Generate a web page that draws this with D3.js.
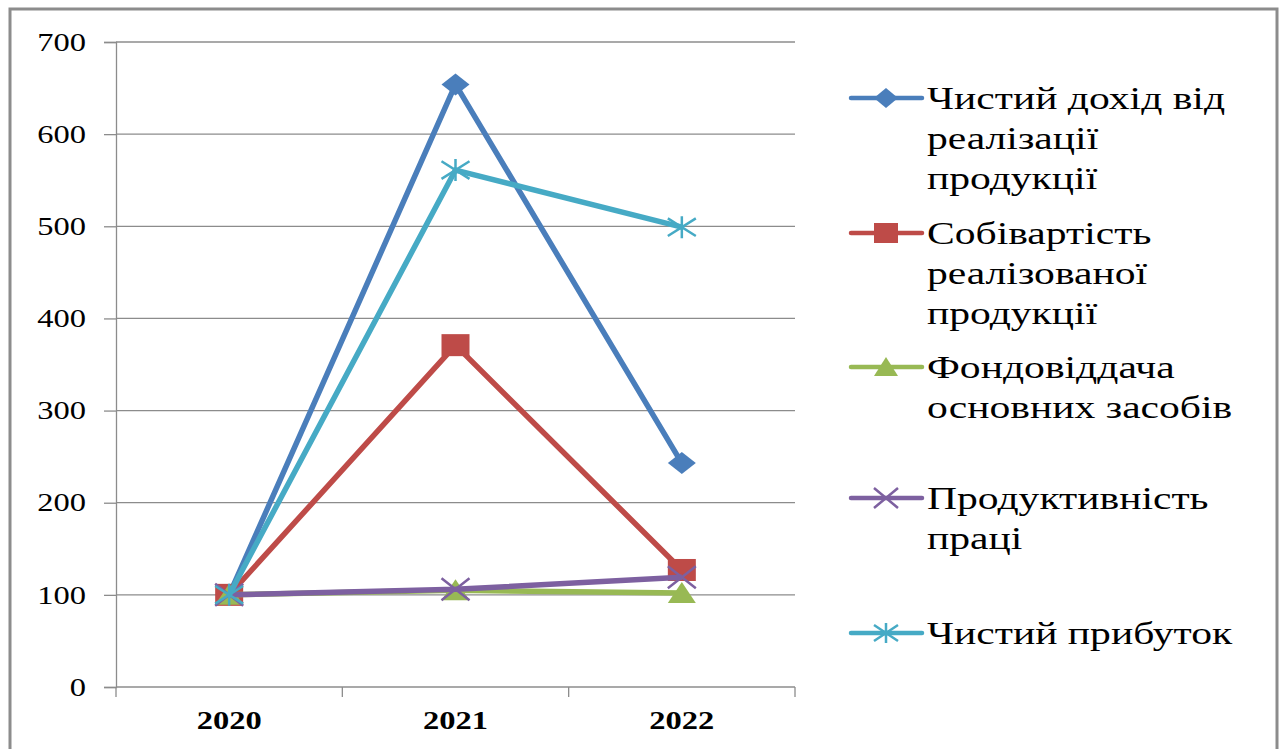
<!DOCTYPE html>
<html><head><meta charset="utf-8">
<script src="https://cdn.jsdelivr.net/npm/d3@7"></script>
<style>body{margin:0;background:#fff}svg{display:block}</style>
</head><body>
<script>
const categories = ["2020","2021","2022"];
const seriesNames = [
  ["Чистий дохід від","реалізації","продукції"],
  ["Собівартість","реалізованої","продукції"],
  ["Фондовіддача","основних засобів"],
  ["Продуктивність","праці"],
  ["Чистий прибуток"]
];
const revenue = [100, 654, 243];
const cost = [100, 371, 127];
const assetReturn = [100, 105, 102];
const productivity = [100, 106, 119];
const profit = [100, 561, 499];
const yTicks = [0,100,200,300,400,500,600,700];

const series = [
  {values: revenue, color:"#4A7EBB", marker:"diamond"},
  {values: cost, color:"#BE4B48", marker:"square"},
  {values: assetReturn, color:"#98B954", marker:"triangle"},
  {values: productivity, color:"#7D60A0", marker:"x"},
  {values: profit, color:"#46AAC5", marker:"star"}
];

const W=1282,H=749;
const svg=d3.select("body").append("svg").attr("width",W).attr("height",H);
svg.append("rect").attr("x",10).attr("y",9).attr("width",1267).attr("height",745)
  .attr("fill","#fff").attr("stroke","#8c8c8c").attr("stroke-width",3);

const x=d3.scaleBand().domain(categories).range([116,795]);
const y=d3.scaleLinear().domain([0,700]).range([687,42]);
const SX=1.3;
const serif="'Liberation Serif','Times New Roman',serif";

// gridlines
svg.append("g").selectAll("line").data(yTicks.filter(d=>d>0)).join("line")
  .attr("x1",116).attr("x2",795).attr("y1",d=>y(d)).attr("y2",d=>y(d))
  .attr("stroke","#8c8c8c").attr("stroke-width",1.3);

const yAxis=svg.append("g").attr("transform","translate(116,0)")
  .call(d3.axisLeft(y).tickValues(yTicks).tickSize(12).tickPadding(0).tickFormat(d3.format("d")));
yAxis.select(".domain").attr("stroke","#8c8c8c").attr("stroke-width",1.3);
yAxis.selectAll(".tick line").attr("stroke","#8c8c8c").attr("stroke-width",1.3);
yAxis.selectAll(".tick text").text(null);
yAxis.selectAll(".tick").append("text")
  .attr("transform",`translate(-30,0) scale(${SX},1)`)
  .attr("text-anchor","end").attr("dy","0.33em")
  .attr("font-family",serif).attr("font-size",25).attr("fill","#000")
  .text(d=>d);

const xAxis=svg.append("g").attr("transform","translate(0,687)")
  .call(d3.axisBottom(x).tickSize(0).tickPadding(0));
xAxis.select(".domain").remove();
xAxis.selectAll(".tick text").remove();
xAxis.selectAll(".tick").append("text")
  .attr("transform",`translate(0,42) scale(${SX},1)`).attr("text-anchor","middle")
  .attr("font-family",serif).attr("font-size",25).attr("font-weight","bold").attr("fill","#000")
  .text(d=>d);
svg.append("line").attr("x1",116).attr("x2",795).attr("y1",687).attr("y2",687)
  .attr("stroke","#8c8c8c").attr("stroke-width",1.3);
const bounds=[...categories.map(c=>x(c)), x.range()[1]];
svg.append("g").selectAll("line").data(bounds).join("line")
  .attr("x1",d=>d).attr("x2",d=>d).attr("y1",687).attr("y2",697)
  .attr("stroke","#8c8c8c").attr("stroke-width",1.3);

function drawMarker(g, type, color, w, h){
  if(type==="diamond"){
    g.append("path").attr("d",`M0,${-h}L${w},0L0,${h}L${-w},0Z`).attr("fill",color);
  } else if(type==="square"){
    g.append("rect").attr("x",-w).attr("y",-h).attr("width",w*2).attr("height",h*2).attr("fill",color);
  } else if(type==="triangle"){
    g.append("path").attr("d",`M0,${-h}L${w},${h*0.9}L${-w},${h*0.9}Z`).attr("fill",color);
  } else if(type==="x"){
    g.append("path").attr("d",`M${-w},${-h}L${w},${h}M${-w},${h}L${w},${-h}`)
      .attr("stroke",color).attr("stroke-width",2.5).attr("fill","none");
  } else if(type==="star"){
    g.append("path").attr("d",`M${-w},${-h*0.8}L${w},${h*0.8}M${-w},${h*0.8}L${w},${-h*0.8}M0,${-h}L0,${h}`)
      .attr("stroke",color).attr("stroke-width",2.5).attr("fill","none");
  }
}

const line=d3.line().x((d,i)=>x(categories[i])+x.bandwidth()/2).y(d=>y(d));
series.forEach(s=>{
  svg.append("path").attr("d",line(s.values)).attr("fill","none")
    .attr("stroke",s.color).attr("stroke-width",5.5).attr("stroke-linejoin","round");
  s.values.forEach((v,i)=>{
    const g=svg.append("g").attr("transform",`translate(${x(categories[i])+x.bandwidth()/2},${y(v)})`);
    drawMarker(g,s.marker,s.color,14,11);
  });
});

// legend
const legendY=[98,233,367,498,633];
series.forEach((s,k)=>{
  const g=svg.append("g").attr("transform",`translate(0,${legendY[k]})`);
  g.append("line").attr("x1",851).attr("x2",922).attr("y1",0).attr("y2",0)
    .attr("stroke",s.color).attr("stroke-width",4.5).attr("stroke-linecap","round");
  const mg=g.append("g").attr("transform","translate(886,0)");
  drawMarker(mg,s.marker,s.color,12,10);
  seriesNames[k].forEach((t,j)=>{
    g.append("text").attr("transform",`translate(927,${j*40}) scale(${SX},1)`)
      .attr("dy","0.33em").attr("font-family",serif).attr("font-size",32).attr("fill","#000").text(t);
  });
});
</script>
</body></html>
